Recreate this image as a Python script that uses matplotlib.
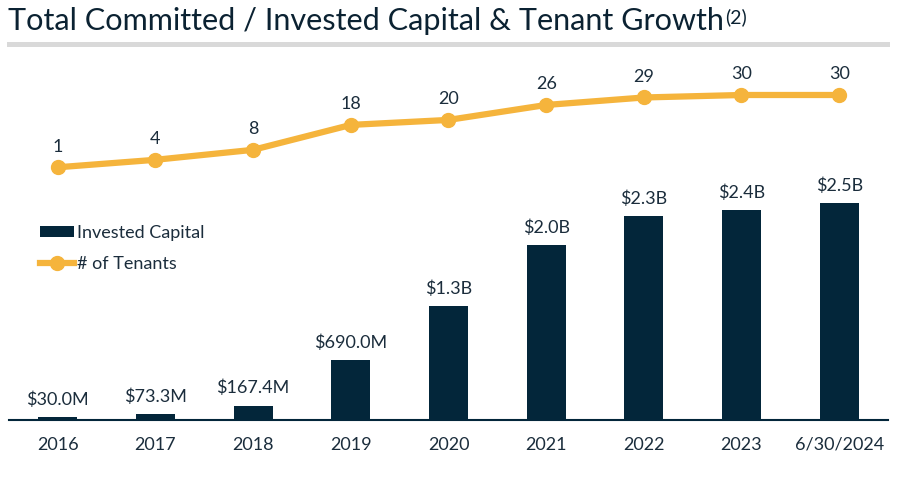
import matplotlib
matplotlib.use("Agg")
import matplotlib.pyplot as plt
from matplotlib.lines import Line2D
from matplotlib.patches import Patch

categories = ["2016", "2017", "2018", "2019", "2020", "2021", "2022", "2023", "6/30/2024"]
invested_capital_m = [30.0, 73.3, 167.4, 690.0, 1320, 2020, 2350, 2430, 2500]
capital_labels = ["$30.0M", "$73.3M", "$167.4M", "$690.0M", "$1.3B", "$2.0B", "$2.3B", "$2.4B", "$2.5B"]
tenants = [1, 4, 8, 18, 20, 26, 29, 30, 30]

NAVY = "#03263a"
TEXT = "#1b2d3c"
GOLD = "#f5b43c"

plt.rcParams["font.family"] = ["Lato", "DejaVu Sans"]

fig = plt.figure(figsize=(8.97, 4.78), dpi=100)
W, H = 897, 478
ax = fig.add_axes([9 / W, (H - 420) / H, 879 / W, 360 / H])
x = list(range(len(categories)))

ax.bar(x, invested_capital_m, width=0.4, color=NAVY, zorder=2)
ax.set_xlim(-0.5, 8.5)
ax.set_ylim(0, 4157)
for xi, v, lab in zip(x, invested_capital_m, capital_labels):
    ax.annotate(lab, (xi, v), xytext=(0, 6.5), textcoords="offset points",
                ha="center", va="bottom", fontsize=13, color=TEXT)

for s in ["top", "right", "left"]:
    ax.spines[s].set_visible(False)
ax.spines["bottom"].set_color(NAVY)
ax.spines["bottom"].set_linewidth(1.5)
ax.set_yticks([])
ax.set_xticks(x)
ax.set_xticklabels(categories, fontsize=13, color=TEXT)
ax.tick_params(axis="x", length=0, pad=12)

ax2 = ax.twinx()
ax2.set_ylim(-100.4, 44.04)
ax2.plot(x, tenants, color=GOLD, lw=4.5, marker="o", ms=10, zorder=3)
for xi, t in zip(x, tenants):
    ax2.annotate(str(t), (xi, t), xytext=(0, 9), textcoords="offset points",
                 ha="center", va="bottom", fontsize=13, color=TEXT)
ax2.set_yticks([])
for s in ax2.spines.values():
    s.set_visible(False)

handles = [Patch(facecolor=NAVY, edgecolor="none"),
           Line2D([0], [0], color=GOLD, lw=4.5, marker="o", ms=10)]
fig.legend(handles, ["Invested Capital", "# of Tenants"], loc="upper left",
           bbox_to_anchor=(40 / W, 1 - 225 / H), frameon=False, fontsize=13,
           handlelength=1.9, handletextpad=0.15, labelspacing=0.82,
           handleheight=0.55, labelcolor=TEXT, borderaxespad=0, borderpad=0)

title = fig.text(8 / W, 1 - 30 / H, "Total Committed / Invested Capital & Tenant Growth",
                 fontsize=22.1, color="#0b2232", ha="left", va="baseline")
fig.canvas.draw()
bb = title.get_window_extent(renderer=fig.canvas.get_renderer())
fig.text(bb.x1 / W + 1 / W, 1 - 23 / H, "(2)", fontsize=14, color="#0b2232",
         ha="left", va="baseline")
fig.add_artist(plt.Rectangle((7 / W, 1 - 47 / H), 883 / W, 5 / H,
                             transform=fig.transFigure, color="#d9d9d9", lw=0))

fig.savefig("out.png", dpi=100)
